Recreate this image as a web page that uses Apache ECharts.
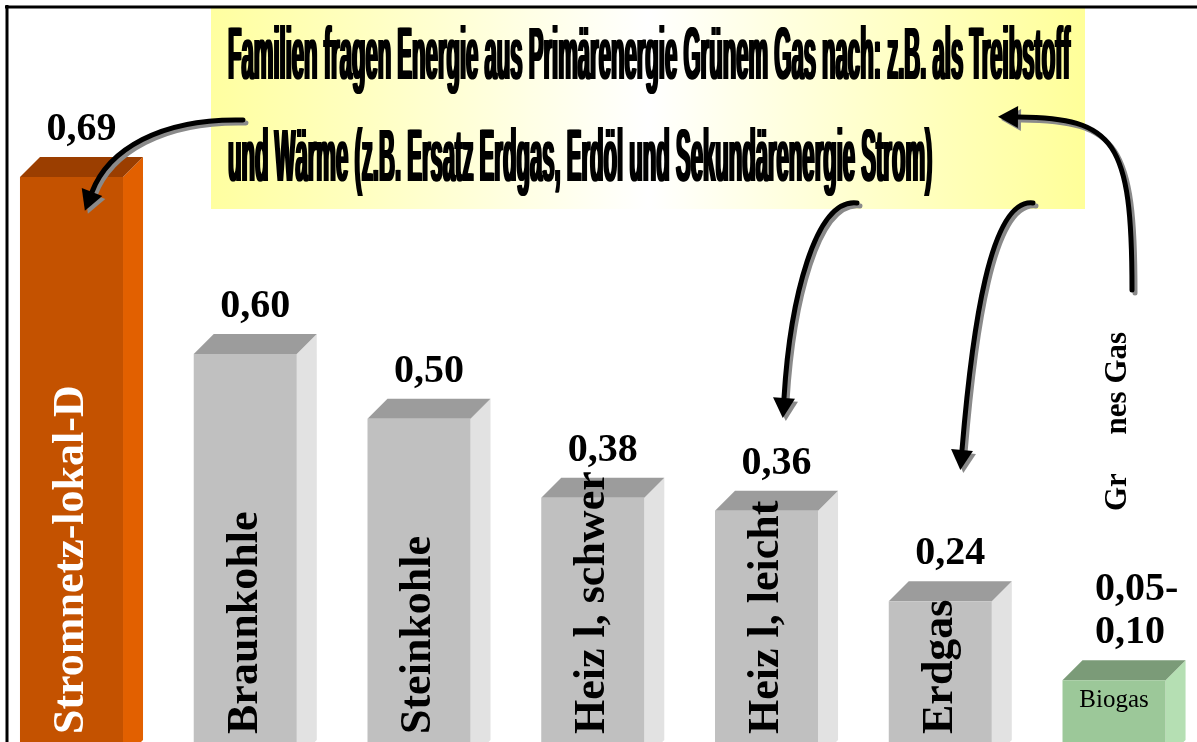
<!DOCTYPE html>
<html>
<head>
<meta charset="utf-8">
<title>Primärenergie</title>
<script src="https://cdn.jsdelivr.net/npm/echarts@6/dist/echarts.min.js"></script>
<style>
  html, body { margin: 0; padding: 0; background: #fff; }
  #chart { width: 1197px; height: 742px; }
</style>
</head>
<body>
<div id="chart"></div>
<script>
// Kategorien, so wie sie im Bild stehen
var categories = ['Stromnetz-lokal-D', 'Braunkohle', 'Steinkohle', 'Heiz l, schwer', 'Heiz l, leicht', 'Erdgas', 'Biogas'];
// Balkenhoehen wie im Bild gezeichnet
var barHeights = [0.856, 0.596, 0.501, 0.385, 0.366, 0.233, 0.117];
// Werte ueber den Balken
var valueLabels = ['0,69', '0,60', '0,50', '0,38', '0,36', '0,24', '0,05-\n0,10'];
var groupLabel = 'Gr     nes Gas';
var titleLines = [
  'Familien fragen Energie aus Primärenergie Grünem Gas nach: z.B. als Treibstoff',
  'und Wärme (z.B. Ersatz Erdgas, Erdöl und Sekundärenergie Strom)'
];

var palettes = {
  strom: { front: '#c45200', top: '#9b3e00', side: '#e26000', text: '#ffffff' },
  grey: { front: '#c0c0c0', top: '#9c9c9c', side: '#e2e2e2', text: '#000000' },
  bio: { front: '#9cc899', top: '#7b9b78', side: '#b5dfb3', text: '#000000' }
};
var serif = '"Liberation Serif", "Times New Roman", serif';
var depth = 20;

function renderBar(params, api) {
  var idx = api.value(0);
  var topPt = api.coord([idx, api.value(1)]);
  var basePt = api.coord([idx, 0]);
  var w = api.size([1, 0])[0] * 0.593;
  var cx = topPt[0];
  var x0 = cx - w / 2, x1 = cx + w / 2;
  var yT = topPt[1], yB = basePt[1];
  var last = categories.length - 1;
  var pal = idx === 0 ? palettes.strom : (idx === last ? palettes.bio : palettes.grey);

  var children = [
    { type: 'polygon', shape: { points: [[x1, yT], [x1 + depth, yT - depth], [x1 + depth, yB - depth], [x1, yB]] }, style: { fill: pal.side } },
    { type: 'polygon', shape: { points: [[x0, yT], [x0 + depth, yT - depth], [x1 + depth, yT - depth], [x1, yT]] }, style: { fill: pal.top } },
    { type: 'rect', shape: { x: x0, y: yT, width: w, height: yB - yT }, style: { fill: pal.front } }
  ];

  var lbl = valueLabels[idx];
  var multi = lbl.indexOf('\n') >= 0;
  children.push({
    type: 'text',
    x: multi ? cx - 19 : cx + 10,
    y: yT - depth - 6,
    style: {
      text: lbl, font: 'bold 40px ' + serif, fill: '#000',
      align: multi ? 'left' : 'center', verticalAlign: 'bottom', lineHeight: 43
    }
  });

  if (idx === last) {
    children.push({
      type: 'text', x: cx, y: 700,
      style: { text: categories[idx], font: '25px ' + serif, fill: pal.text, align: 'center', verticalAlign: 'middle' }
    });
    children.push({
      type: 'text', x: cx + 4, y: 511, rotation: Math.PI / 2,
      style: { text: groupLabel, font: 'bold 31px ' + serif, fill: '#000', align: 'left', verticalAlign: 'middle' }
    });
  } else {
    children.push({
      type: 'text', x: cx, y: 734, rotation: Math.PI / 2,
      style: { text: categories[idx], font: 'bold 44px ' + serif, fill: pal.text, align: 'left', verticalAlign: 'middle' }
    });
  }
  return { type: 'group', children: children };
}

// Titel stark schmal gezogen wie im Original
var titleFont = 'bold 74px "Liberation Sans", Arial, sans-serif';
var ctx = document.createElement('canvas').getContext('2d');
ctx.font = titleFont;
var titleScale = (844 - 2) / ctx.measureText(titleLines[0]).width;

var titleTexts = [];
[0, 1, 2].forEach(function (dx) {
  titleTexts.push({ type: 'text', z: 60, x: 227 + dx, y: 59, scaleX: titleScale,
    style: { text: titleLines[0], font: titleFont, fill: '#000', align: 'left', verticalAlign: 'middle' } });
  titleTexts.push({ type: 'text', z: 60, x: 227 + dx, y: 161, scaleX: titleScale,
    style: { text: titleLines[1], font: titleFont, fill: '#000', align: 'left', verticalAlign: 'middle' } });
});

function arrow(p0, c1, c2, p1) {
  var vx = p1[0] - c2[0], vy = p1[1] - c2[1];
  var len = Math.sqrt(vx * vx + vy * vy);
  var ux = vx / len, uy = vy / len;
  var tip = [p1[0] + ux * 20, p1[1] + uy * 20];
  var nx = -uy * 11, ny = ux * 11;
  var out = [];
  [['#8a8a8a', 3, 3, 70], ['#000000', 0, 0, 71]].forEach(function (s) {
    var c = s[0], dx = s[1], dy = s[2], z = s[3];
    out.push({
      type: 'bezierCurve', z: z,
      shape: { x1: p0[0] + dx, y1: p0[1] + dy, cpx1: c1[0] + dx, cpy1: c1[1] + dy, cpx2: c2[0] + dx, cpy2: c2[1] + dy, x2: p1[0] + dx, y2: p1[1] + dy },
      style: { stroke: c, lineWidth: 5, fill: null, lineCap: 'round' }
    });
    out.push({
      type: 'polygon', z: z,
      shape: { points: [[tip[0] + dx, tip[1] + dy], [p1[0] + nx + dx, p1[1] + ny + dy], [p1[0] - nx + dx, p1[1] - ny + dy]] },
      style: { fill: c }
    });
  });
  return out;
}

var arrows = [].concat(
  arrow([243, 120], [160, 118], [108, 150], [92, 192]),
  arrow([857, 203], [815, 198], [790, 300], [784, 398]),
  arrow([1033, 203], [990, 198], [972, 330], [962, 450]),
  arrow([1132, 290], [1132, 140], [1115, 118], [1018, 117])
);

var chart = echarts.init(document.getElementById('chart'));
chart.setOption({
  animation: false,
  backgroundColor: '#ffffff',
  grid: { left: 0, right: 0, top: 79, bottom: 0 },
  // Index-Achse, etwas nach links verschoben wie im Original
  xAxis: { type: 'value', min: -0.4115, max: 6.4775, show: false },
  yAxis: { type: 'value', min: 0.0264, max: 1.0, show: false },
  series: [{
    type: 'custom',
    renderItem: renderBar,
    encode: { x: 0, y: 1 },
    data: barHeights.map(function (v, i) { return [i, v]; })
  }],
  graphic: [
    {
      type: 'rect', z: 50,
      shape: { x: 211, y: 8, width: 874, height: 201 },
      style: {
        fill: new echarts.graphic.LinearGradient(0, 0, 1, 0, [
          { offset: 0, color: '#ffffa0' },
          { offset: 0.5, color: '#ffffff' },
          { offset: 1, color: '#ffff99' }
        ])
      }
    }
  ].concat(titleTexts, arrows, [
    { type: 'line', z: 80, shape: { x1: 5, y1: 7, x2: 1197, y2: 7 }, style: { stroke: '#000', lineWidth: 3 } },
    { type: 'line', z: 80, shape: { x1: 7, y1: 5, x2: 7, y2: 742 }, style: { stroke: '#000', lineWidth: 3 } }
  ])
});
</script>
</body>
</html>
